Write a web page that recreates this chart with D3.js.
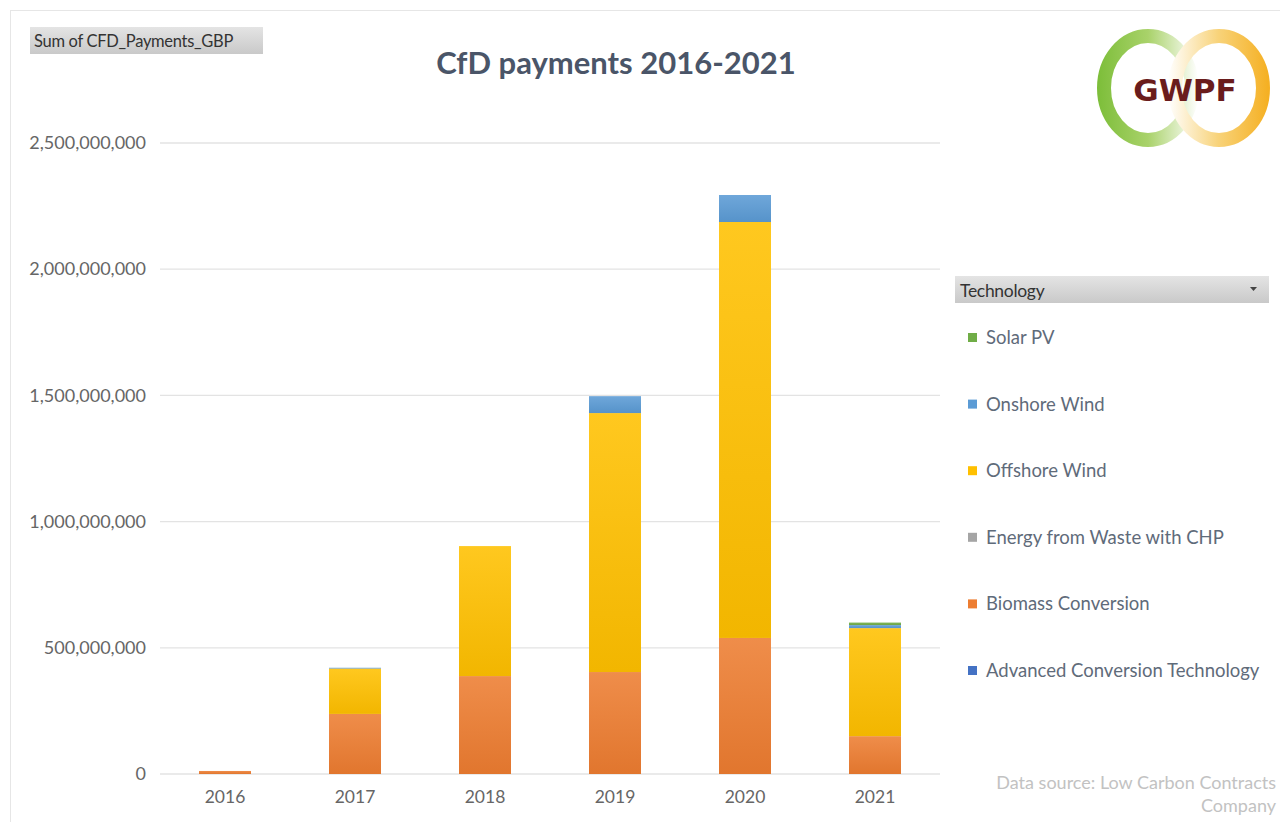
<!DOCTYPE html>
<html><head><meta charset="utf-8">
<script src="https://cdn.jsdelivr.net/npm/d3@7"></script>
<style>body{margin:0;background:#fff;}svg{display:block;font-family:Lato,"Open Sans",sans-serif;}</style>
</head><body>
<svg id="c" width="1280" height="822"></svg>
<script>
const years = ["2016","2017","2018","2019","2020","2021"];
const seriesNames = ["Advanced Conversion Technology","Biomass Conversion","Energy from Waste with CHP","Offshore Wind","Onshore Wind","Solar PV"];
const actValues      = [0, 0, 0, 0, 0, 0];
const biomassValues  = [12e6, 238e6, 388e6, 404e6, 539e6, 150e6];
const efwValues      = [0, 0, 0, 0, 0, 0];
const offshoreValues = [0, 180e6, 515e6, 1026e6, 1648e6, 428e6];
const onshoreValues  = [0, 3e6, 0, 67e6, 107e6, 12e6];
const solarValues    = [0, 0, 0, 0, 0, 10e6];
const yTicks = [0, 5e8, 1e9, 1.5e9, 2e9, 2.5e9];
const seriesColors = ["#4472C4","#ED7D31","#A5A5A5","#FFC000","#5B9BD5","#70AD47"];
const legendOrder = ["Solar PV","Onshore Wind","Offshore Wind","Energy from Waste with CHP","Biomass Conversion","Advanced Conversion Technology"];

const valuesBySeries = [actValues, biomassValues, efwValues, offshoreValues, onshoreValues, solarValues];
const table = years.map((y,i)=>{const r={year:y}; seriesNames.forEach((s,j)=>r[s]=valuesBySeries[j][i]); return r;});
const stack = d3.stack().keys(seriesNames)(table);

const svg = d3.select("#c");
const defs = svg.append("defs");
const color = d3.scaleOrdinal(seriesNames, seriesColors);

// frame
svg.append("rect").attr("x",10.5).attr("y",10.5).attr("width",1290).attr("height",830)
  .attr("fill","none").attr("stroke","#e6e6e6");

// gradients per series
seriesNames.forEach((s,i)=>{
  const c = d3.color(seriesColors[i]);
  const g = defs.append("linearGradient").attr("id","g"+i).attr("x1",0).attr("y1",0).attr("x2",0).attr("y2",1);
  g.append("stop").attr("offset","0%").attr("stop-color",d3.interpolateRgb(c,"#fff")(0.12));
  g.append("stop").attr("offset","100%").attr("stop-color",c.darker(0.15));
});

const x = d3.scaleBand().domain(years).range([160,940]).paddingInner(0.6).paddingOuter(0.3);
const y = d3.scaleLinear().domain([0,2.5e9]).range([774,143]);

// gridlines
svg.append("g").selectAll("line").data(yTicks).join("line")
  .attr("x1",160).attr("x2",940).attr("y1",d=>y(d)).attr("y2",d=>y(d))
  .attr("stroke","#e3e3e3").attr("stroke-width",1.3);

// y axis labels
const yAxis = d3.axisLeft(y).tickValues(yTicks).tickFormat(d3.format(",")).tickSize(0).tickPadding(0);
const ya = svg.append("g").attr("transform","translate(146,0)").call(yAxis);
ya.select(".domain").remove();
ya.selectAll("text").attr("fill","#666").style("font-size","18px").style("font-family","Lato");

// x axis labels
const xAxis = d3.axisBottom(x).tickSize(0).tickPadding(0);
const xa = svg.append("g").attr("transform","translate(0,791)").call(xAxis);
xa.select(".domain").remove();
xa.selectAll("text").attr("fill","#666").style("font-size","17.5px").style("font-family","Lato");

// bars
svg.append("g").selectAll("g").data(stack).join("g")
  .attr("fill",(d,i)=>"url(#g"+i+")")
  .selectAll("rect").data(d=>d).join("rect")
  .attr("x",d=>x(d.data.year)).attr("width",x.bandwidth())
  .attr("y",d=>y(d[1])).attr("height",d=>Math.max(0,y(d[0])-y(d[1])));

// title
svg.append("text").attr("x",616).attr("y",74).attr("text-anchor","middle")
  .attr("fill","#4a5568").style("font-size","31px").style("font-weight","700").text("CfD payments 2016-2021");

// field button
const bg = defs.append("linearGradient").attr("id","btn").attr("x1",0).attr("y1",0).attr("x2",0).attr("y2",1);
bg.append("stop").attr("offset","0%").attr("stop-color","#e4e4e4");
bg.append("stop").attr("offset","100%").attr("stop-color","#c9c9c9");
svg.append("rect").attr("x",30).attr("y",27).attr("width",233).attr("height",27).attr("fill","url(#btn)");
svg.append("text").attr("x",34).attr("y",47).attr("fill","#333").style("font-size","16.5px").style("letter-spacing","-0.3px").text("Sum of CFD_Payments_GBP");

// legend header
svg.append("rect").attr("x",955).attr("y",276).attr("width",314).attr("height",27).attr("fill","url(#btn)");
svg.append("text").attr("x",960).attr("y",297).attr("fill","#333").style("font-size","17.5px").style("letter-spacing","-0.3px").text("Technology");
svg.append("path").attr("d","M1250,287 l7,0 l-3.5,4 z").attr("fill","#444");

// legend items
const leg = svg.append("g").selectAll("g").data(legendOrder).join("g")
  .attr("transform",(d,i)=>`translate(968,${338+i*66.6})`);
leg.append("rect").attr("x",0).attr("y",-5).attr("width",9).attr("height",9).attr("fill",d=>color(d));
leg.append("text").attr("x",18).attr("y",6).attr("fill","#5f6b7a").style("font-size","18.5px").text(d=>d);

// data source
svg.append("text").attr("x",1276).attr("y",789).attr("text-anchor","end").attr("fill","#c2c2c2").style("font-size","18px").text("Data source: Low Carbon Contracts");
svg.append("text").attr("x",1276).attr("y",812).attr("text-anchor","end").attr("fill","#c2c2c2").style("font-size","18px").text("Company");

// logo
const lg = defs.append("linearGradient").attr("id","lgG").attr("gradientUnits","userSpaceOnUse").attr("x1",1098).attr("y1",0).attr("x2",1198).attr("y2",0);
lg.append("stop").attr("offset","0%").attr("stop-color","#7DBE3A");
lg.append("stop").attr("offset","50%").attr("stop-color","#A9D26A");
lg.append("stop").attr("offset","100%").attr("stop-color","#ffffff");
const rg = defs.append("linearGradient").attr("id","lgO").attr("gradientUnits","userSpaceOnUse").attr("x1",1168).attr("y1",0).attr("x2",1268).attr("y2",0);
rg.append("stop").attr("offset","0%").attr("stop-color","#ffffff");
rg.append("stop").attr("offset","50%").attr("stop-color","#F8D37A");
rg.append("stop").attr("offset","100%").attr("stop-color","#F5B023");
svg.append("ellipse").attr("cx",1148).attr("cy",88).attr("rx",44).attr("ry",52).attr("fill","none").attr("stroke","url(#lgG)").attr("stroke-width",14);
svg.append("ellipse").attr("cx",1219).attr("cy",88).attr("rx",44).attr("ry",52).attr("fill","none").attr("stroke","url(#lgO)").attr("stroke-width",14);
svg.append("text").attr("x",1185).attr("y",101).attr("text-anchor","middle").attr("fill","#6A1C1C")
  .style("font-family","'DejaVu Sans'").style("font-weight","700").style("font-size","31px").text("GWPF");
</script>
</body></html>
